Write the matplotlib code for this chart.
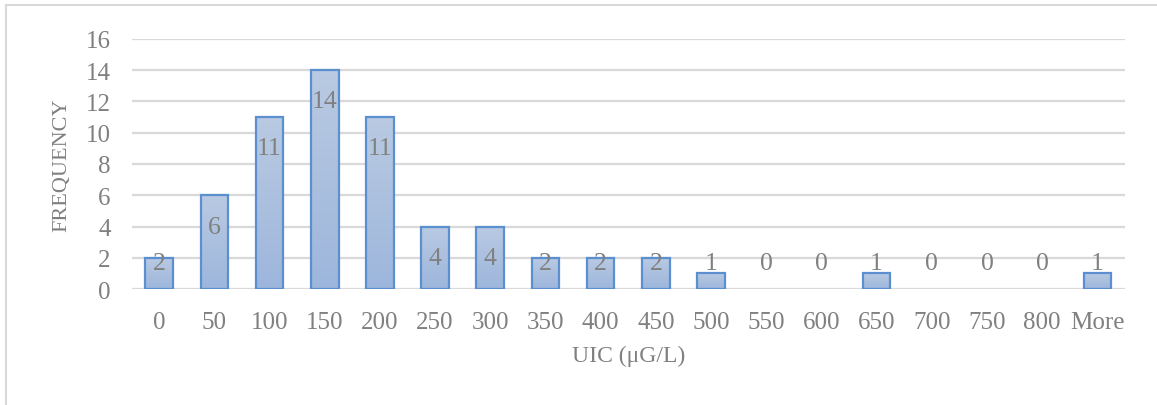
import matplotlib
matplotlib.use("Agg")
import matplotlib.pyplot as plt
import numpy as np
from matplotlib.colors import LinearSegmentedColormap
from matplotlib.lines import Line2D

# bins of urinary iodine concentration and their counts
categories = ['0', '50', '100', '150', '200', '250', '300', '350', '400', '450',
              '500', '550', '600', '650', '700', '750', '800', 'More']
frequency = [2, 6, 11, 14, 11, 4, 4, 2, 2, 2, 1, 0, 0, 1, 0, 0, 0, 1]
y_ticks = [0, 2, 4, 6, 8, 10, 12, 14, 16]

text_col = '#808080'
grid_col = '#d9d9d9'
edge_col = '#5b8fcf'
grad = LinearSegmentedColormap.from_list('bargrad', ['#9db6dc', '#b9cae2'])

plt.rcParams['font.family'] = ['Liberation Serif', 'DejaVu Serif']

fig = plt.figure(figsize=(11.57, 4.06), dpi=100)
ax = fig.add_axes([0.1137, 0.2857, 0.8586, 0.6158])

x = np.arange(len(categories))
w = 0.5

ax.set_xlim(-0.5, len(categories) - 0.5)
ax.set_ylim(0, 16)

# light horizontal grid
for t in y_ticks:
    ax.axhline(t, color=grid_col, lw=1.6, zorder=0)

bars = ax.bar(x, frequency, width=w, facecolor='none', edgecolor=edge_col,
              linewidth=1.6, zorder=3)

# vertical gradient fill clipped to each bar
g = np.linspace(0, 1, 256).reshape(-1, 1)
for b, xi, v in zip(bars, x, frequency):
    if v <= 0:
        b.set_linewidth(0)
        continue
    im = ax.imshow(g, cmap=grad, aspect='auto', origin='lower',
                   extent=[xi - w / 2, xi + w / 2, 0, v], zorder=2)
    im.set_clip_path(b)

ax.set_xlim(-0.5, len(categories) - 0.5)
ax.set_ylim(0, 16)

# data labels (Excel puts them inside the top of the bar)
for xi, v in zip(x, frequency):
    ax.text(xi, max(v - 2, 1.65), str(v), ha='center', va='center',
            fontsize=18.5, color=text_col, zorder=4)

ax.set_xticks(x)
ax.set_xticklabels(categories)
ax.set_yticks(y_ticks)
ax.tick_params(axis='both', length=0, labelsize=18, labelcolor=text_col)
ax.tick_params(axis='x', pad=16)
ax.tick_params(axis='y', pad=15)

for s in ax.spines.values():
    s.set_visible(False)

ax.set_xlabel('UIC (μG/L)', fontsize=17, color=text_col, labelpad=8)
ax.set_ylabel('FREQUENCY', fontsize=16, color=text_col, labelpad=10)

# chart area border (only top and left visible in the crop)
fig.add_artist(Line2D([6 / 1157, 1], [1 - 6 / 406, 1 - 6 / 406],
                      transform=fig.transFigure, color=grid_col, lw=1.5))
fig.add_artist(Line2D([6 / 1157, 6 / 1157], [0, 1 - 6 / 406],
                      transform=fig.transFigure, color=grid_col, lw=1.5))

fig.savefig('out.png', dpi=100)
